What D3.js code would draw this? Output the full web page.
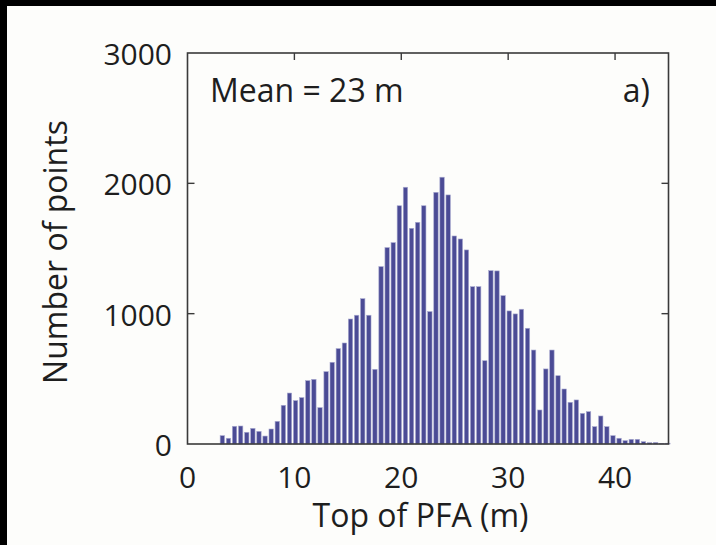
<!DOCTYPE html>
<html>
<head>
<meta charset="utf-8">
<script src="https://cdn.jsdelivr.net/npm/d3@7/dist/d3.min.js"></script>
<style>
  html, body { margin: 0; padding: 0; background: #000; }
  svg { display: block; }
  text { font-family: "Open Sans", "Noto Sans", sans-serif; fill: #1e1e1e; }
</style>
</head>
<body>
<svg id="chart" width="716" height="545"></svg>
<script>
// Histogram of the top of the PFA layer (m)
const binStart = 3.26;   // centre of the first bin (m)
const binWidth = 0.571;  // bin width (m)
const counts = [
  64, 44, 136, 138, 90, 120, 97, 61, 115, 174,
  297, 391, 333, 356, 486, 496, 279, 555, 627, 732,
  775, 959, 988, 1115, 988, 573, 1361, 1507, 1545, 1828,
  1970, 1655, 1701, 1828, 1016, 1931, 2047, 1911, 1596, 1573,
  1489, 1207, 1207, 639, 1330, 1328, 1138, 1021, 998, 1034,
  888, 721, 261, 576, 721, 524, 422, 320, 338, 235,
  248, 133, 215, 133, 64, 44, 26, 36, 36, 18,
  10, 12, 4, 6
];
const xTicks = [0, 10, 20, 30, 40];
const yTicks = [0, 1000, 2000, 3000];
const xDomain = [0, 45];
const yDomain = [0, 3000];
const meanLabel = "Mean = 23 m";
const panelLabel = "a)";
const xTitle = "Top of PFA (m)";
const yTitle = "Number of points";

const bins = counts.map((c, i) => ({ x: binStart + i * binWidth, n: c }));

const svg = d3.select("#chart");

// page background with the dark strip along the top and left edge
svg.append("rect").attr("x", 0).attr("y", 0).attr("width", 716).attr("height", 545).attr("fill", "#000");
svg.append("rect").attr("x", 7).attr("y", 6).attr("width", 709).attr("height", 539).attr("fill", "#fdfdfb");

const plotL = 187.5, plotR = 668.5, plotT = 53, plotB = 444;
const x = d3.scaleLinear().domain(xDomain).range([plotL, plotR]);
const y = d3.scaleLinear().domain(yDomain).range([plotB, plotT]);

const barW = (x(binWidth) - x(0)) * 0.72;

// bars
svg.append("g")
  .selectAll("rect")
  .data(bins)
  .join("rect")
  .attr("x", d => x(d.x) - barW / 2)
  .attr("y", d => y(d.n))
  .attr("width", barW)
  .attr("height", d => y(0) - y(d.n))
  .attr("fill", "#4b4b95")
  .attr("stroke", "#a9aad0")
  .attr("stroke-width", 0.6);

// frame and inward ticks
const axisColor = "#3a3a3a";
const frame = svg.append("g");
frame.append("rect")
  .attr("x", plotL).attr("y", plotT)
  .attr("width", plotR - plotL).attr("height", plotB - plotT)
  .attr("fill", "none").attr("stroke", axisColor).attr("stroke-width", 1.6);

const tickLen = 7;
frame.selectAll("line.yl").data(yTicks.slice(1, -1)).join("line")
  .attr("x1", plotL).attr("x2", plotL + tickLen)
  .attr("y1", d => y(d)).attr("y2", d => y(d))
  .attr("stroke", axisColor).attr("stroke-width", 1.4);
frame.selectAll("line.yr").data(yTicks.slice(1, -1)).join("line")
  .attr("x1", plotR).attr("x2", plotR - tickLen)
  .attr("y1", d => y(d)).attr("y2", d => y(d))
  .attr("stroke", axisColor).attr("stroke-width", 1.4);
frame.selectAll("line.xt").data(xTicks.slice(1)).join("line")
  .attr("x1", d => x(d)).attr("x2", d => x(d))
  .attr("y1", plotT).attr("y2", plotT + tickLen)
  .attr("stroke", axisColor).attr("stroke-width", 1.4);

// tick labels
svg.append("g").selectAll("text").data(yTicks).join("text")
  .attr("x", 172)
  .attr("y", d => y(d) + 12)
  .attr("text-anchor", "end")
  .attr("font-size", 30)
  .text(d => d);

svg.append("g").selectAll("text").data(xTicks).join("text")
  .attr("x", d => x(d))
  .attr("y", 488)
  .attr("text-anchor", "middle")
  .attr("font-size", 30)
  .text(d => d);

// axis titles
svg.append("text")
  .attr("x", x(21.8)).attr("y", 527)
  .attr("text-anchor", "middle")
  .attr("font-size", 32)
  .text(xTitle);

svg.append("text")
  .attr("transform", "translate(67,252) rotate(-90)")
  .attr("text-anchor", "middle")
  .attr("font-size", 32)
  .text(yTitle);

// annotations inside the plot
svg.append("text")
  .attr("x", 210).attr("y", 102)
  .attr("font-size", 32)
  .text(meanLabel);

svg.append("text")
  .attr("x", 650).attr("y", 102)
  .attr("text-anchor", "end")
  .attr("font-size", 32)
  .text(panelLabel);
</script>
</body>
</html>
